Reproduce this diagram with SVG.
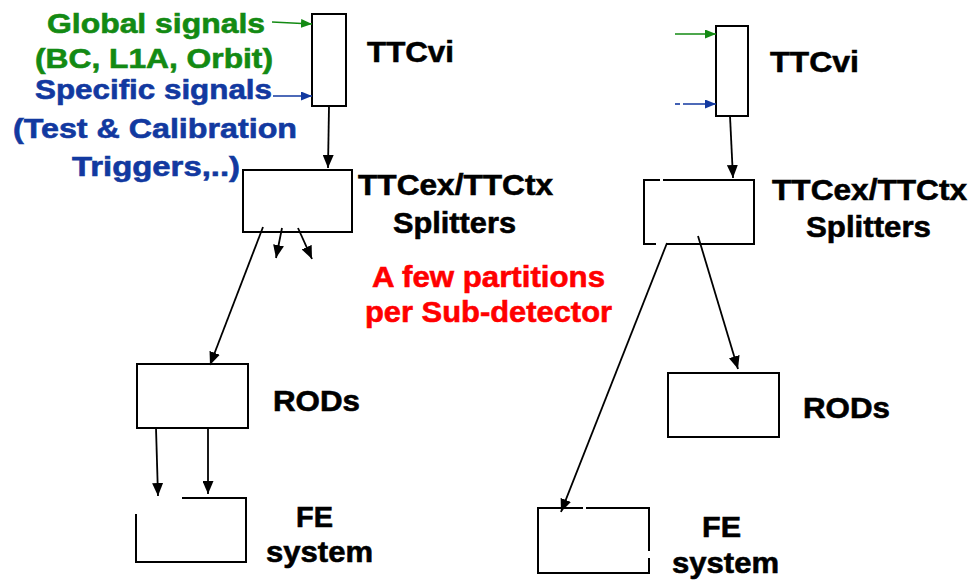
<svg xmlns="http://www.w3.org/2000/svg" width="972" height="580" viewBox="0 0 972 580">
<style>
.box{fill:none;stroke:#000;stroke-width:2}
.lbl{font-family:"Liberation Sans",Arial,sans-serif;font-weight:bold;font-size:30px;fill:#000;stroke:#000;stroke-width:0.6}
.sig{font-size:27px}
.g{fill:#138a13;stroke:#138a13}
.b{fill:#1239a0;stroke:#1239a0}
.r{fill:#ff0000;stroke:#ff0000}
.c{stroke:#000;stroke-width:1.8;fill:none}
.cg{stroke:#138a13;stroke-width:1.6;fill:none}
.cb{stroke:#1239a0;stroke-width:1.6;fill:none}
</style>
<defs>
<marker id="ak" markerWidth="14" markerHeight="11" refX="13" refY="5.5" orient="auto" markerUnits="userSpaceOnUse"><path d="M0,0 L13,5.5 L0,11 z" fill="#000"/></marker>
<marker id="ag" markerWidth="12" markerHeight="9" refX="11" refY="4.5" orient="auto" markerUnits="userSpaceOnUse"><path d="M0,0 L11,4.5 L0,9 z" fill="#138a13"/></marker>
<marker id="abl" markerWidth="12" markerHeight="9" refX="11" refY="4.5" orient="auto" markerUnits="userSpaceOnUse"><path d="M0,0 L11,4.5 L0,9 z" fill="#1239a0"/></marker>
</defs>
<rect width="972" height="580" fill="#fff"/>

<g id="signals-text">
<text class="lbl sig g" x="47" y="33" textLength="218" lengthAdjust="spacingAndGlyphs">Global signals</text>
<text class="lbl sig g" x="35" y="68" textLength="238" lengthAdjust="spacingAndGlyphs">(BC, L1A, Orbit)</text>
<text class="lbl sig b" x="35" y="99" textLength="237" lengthAdjust="spacingAndGlyphs">Specific signals</text>
<text class="lbl sig b" x="13" y="138" textLength="284" lengthAdjust="spacingAndGlyphs">(Test &amp; Calibration</text>
<text class="lbl sig b" x="72" y="176" textLength="168" lengthAdjust="spacingAndGlyphs">Triggers,..)</text>
</g>

<g id="partitions-text">
<text class="lbl r" x="372" y="287" textLength="233" lengthAdjust="spacingAndGlyphs">A few partitions</text>
<text class="lbl r" x="365" y="322" textLength="247" lengthAdjust="spacingAndGlyphs">per Sub-detector</text>
</g>

<g id="ttcvi-left">
<rect class="box" x="312" y="14" width="34" height="92"/>
<text class="lbl" x="367" y="62" textLength="87" lengthAdjust="spacingAndGlyphs">TTCvi</text>
</g>
<g id="splitters-left">
<rect class="box" x="243" y="170" width="109" height="62"/>
<text class="lbl" x="358" y="195" textLength="195" lengthAdjust="spacingAndGlyphs">TTCex/TTCtx</text>
<text class="lbl" x="393" y="233" textLength="123" lengthAdjust="spacingAndGlyphs">Splitters</text>
</g>
<g id="rods-left">
<rect class="box" x="137" y="364" width="111" height="64"/>
<text class="lbl" x="273" y="411" textLength="87" lengthAdjust="spacingAndGlyphs">RODs</text>
</g>
<g id="fe-left">
<path class="box" d="M182,498 H246 V562 H136 V514"/>
<text class="lbl" x="296" y="527" textLength="37" lengthAdjust="spacingAndGlyphs">FE</text>
<text class="lbl" x="266" y="562" textLength="107" lengthAdjust="spacingAndGlyphs">system</text>
</g>

<g id="ttcvi-right">
<rect class="box" x="716" y="26" width="32" height="90"/>
<text class="lbl" x="770" y="72" textLength="89" lengthAdjust="spacingAndGlyphs">TTCvi</text>
</g>
<g id="splitters-right">
<path class="box" d="M663,180 H754 V244 H666 M656,244 H644 V180 H660"/>
<text class="lbl" x="772" y="200" textLength="195" lengthAdjust="spacingAndGlyphs">TTCex/TTCtx</text>
<text class="lbl" x="806" y="237" textLength="125" lengthAdjust="spacingAndGlyphs">Splitters</text>
</g>
<g id="rods-right">
<rect class="box" x="668" y="373" width="111" height="64"/>
<text class="lbl" x="803" y="418" textLength="87" lengthAdjust="spacingAndGlyphs">RODs</text>
</g>
<g id="fe-right">
<path class="box" d="M586,508 H649 V551 M649,558 V573 H538 V508 H583"/>
<text class="lbl" x="702" y="537" textLength="39" lengthAdjust="spacingAndGlyphs">FE</text>
<text class="lbl" x="672" y="573" textLength="107" lengthAdjust="spacingAndGlyphs">system</text>
</g>

<g id="connectors">
<line class="cg" x1="272" y1="22" x2="312" y2="24" marker-end="url(#ag)"/>
<line class="cb" x1="273" y1="96" x2="312" y2="96" marker-end="url(#abl)"/>
<line class="c" x1="329" y1="106" x2="328" y2="168" marker-end="url(#ak)"/>
<line class="c" x1="263" y1="227" x2="210" y2="365" marker-end="url(#ak)"/>
<line class="c" x1="282" y1="228" x2="276" y2="258" marker-end="url(#ak)"/>
<line class="c" x1="298" y1="228" x2="312" y2="259" marker-end="url(#ak)"/>
<line class="c" x1="156" y1="428" x2="158" y2="496" marker-end="url(#ak)"/>
<line class="c" x1="208" y1="428" x2="208" y2="494" marker-end="url(#ak)"/>

<line class="cg" x1="675" y1="34" x2="716" y2="34" marker-end="url(#ag)"/>
<line class="cb" x1="675" y1="104" x2="680" y2="104"/>
<line class="cb" x1="683" y1="104" x2="716" y2="104" marker-end="url(#abl)"/>
<line class="c" x1="730" y1="116" x2="733" y2="178" marker-end="url(#ak)"/>
<line class="c" x1="667" y1="243" x2="561" y2="512" marker-end="url(#ak)"/>
<line class="c" x1="698" y1="236" x2="738" y2="369" marker-end="url(#ak)"/>
</g>
</svg>
